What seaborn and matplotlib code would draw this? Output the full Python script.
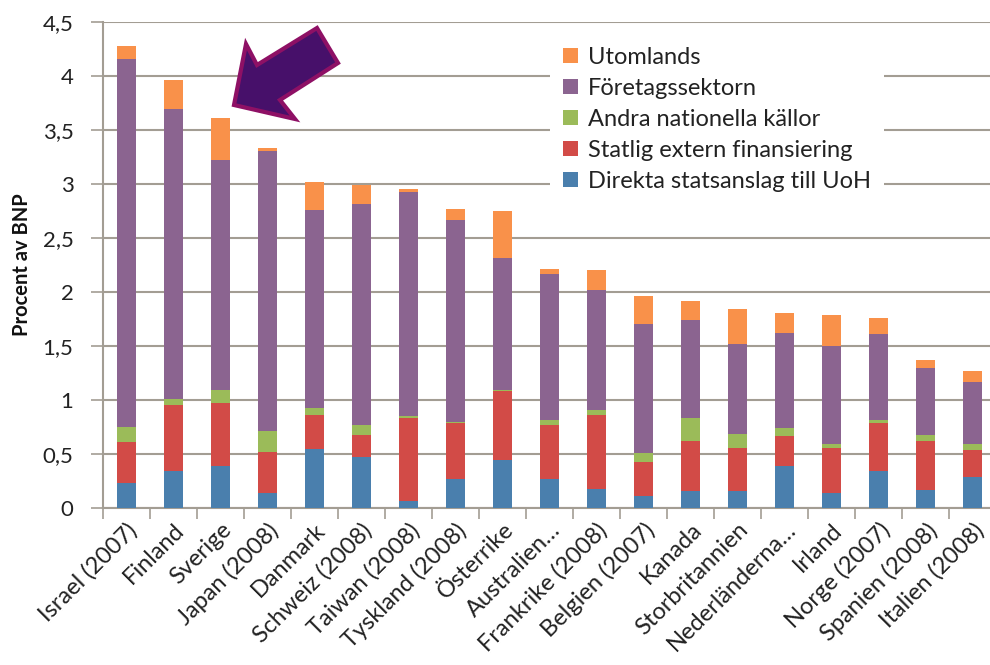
import matplotlib
matplotlib.use("Agg")
import matplotlib.pyplot as plt
from matplotlib.patches import Polygon, Patch
import seaborn as sns
import numpy as np
import pandas as pd

categories = ["Israel (2007)", "Finland", "Sverige", "Japan (2008)", "Danmark",
              "Schweiz (2008)", "Taiwan (2008)", "Tyskland (2008)", "Österrike",
              "Australien…", "Frankrike (2008)", "Belgien (2007)", "Kanada",
              "Storbritannien", "Nederländerna…", "Irland", "Norge (2007)",
              "Spanien (2008)", "Italien (2008)"]

direkta = [0.23, 0.34, 0.39, 0.135, 0.55, 0.475, 0.065, 0.27, 0.447, 0.27,
           0.18, 0.11, 0.155, 0.155, 0.39, 0.135, 0.34, 0.167, 0.284]
statlig = [0.38, 0.61, 0.585, 0.385, 0.31, 0.205, 0.765, 0.515, 0.633, 0.50,
           0.68, 0.32, 0.47, 0.405, 0.277, 0.425, 0.445, 0.458, 0.25]
andra = [0.14, 0.06, 0.115, 0.19, 0.07, 0.09, 0.025, 0.015, 0.01, 0.045,
         0.045, 0.075, 0.205, 0.125, 0.073, 0.03, 0.03, 0.055, 0.056]
foretag = [3.41, 2.68, 2.135, 2.60, 1.83, 2.045, 2.075, 1.867, 1.225, 1.355,
           1.115, 1.195, 0.91, 0.835, 0.88, 0.91, 0.795, 0.62, 0.577]
utomlands = [0.12, 0.27, 0.385, 0.02, 0.26, 0.18, 0.02, 0.103, 0.435, 0.04,
             0.18, 0.26, 0.175, 0.32, 0.19, 0.285, 0.145, 0.075, 0.103]

series_names = ["Direkta statsanslag till UoH", "Statlig extern finansiering",
                "Andra nationella källor", "Företagssektorn", "Utomlands"]
series_values = [direkta, statlig, andra, foretag, utomlands]
colors = ["#4A7FAD", "#D24B47", "#9BBB59", "#8B6490", "#F9914A"]

sns.set_theme(style="white")
plt.rcParams["font.family"] = ["Lato", "DejaVu Sans"]

fig = plt.figure(figsize=(9.9, 6.65), dpi=100)
ax = fig.add_axes([102.7 / 990, 157 / 665, 893.7 / 990, 486 / 665])

cum = np.zeros(len(categories))
cums = []
for vals in series_values:
    cum = cum + np.array(vals)
    cums.append(cum.copy())

# draw from top layer down so lower layers overlay the cumulative heights
for name, c, col in reversed(list(zip(series_names, cums, colors))):
    d = pd.DataFrame({"cat": categories, "val": c})
    sns.barplot(data=d, x="cat", y="val", color=col, width=0.4, ax=ax,
                saturation=1, edgecolor="none", linewidth=0, zorder=3)

ax.set_xlim(-0.5, len(categories) - 0.5)
ax.set_ylim(0, 4.5)
ax.set_yticks(np.arange(0, 4.51, 0.5))
ax.set_yticklabels(["0", "0,5", "1", "1,5", "2", "2,5", "3", "3,5", "4", "4,5"],
                   fontsize=16, color="#222222")
ax.yaxis.grid(True, color="#A39D93", linewidth=1.5, zorder=0)
ax.set_axisbelow(True)

ax.set_xticks(range(len(categories)))
ax.set_xticklabels(categories, rotation=45, ha="right", rotation_mode="anchor",
                   fontsize=17, color="#222222")
ax.set_xticks(np.arange(-0.5, len(categories), 1), minor=True)
ax.tick_params(axis="x", which="major", length=0, pad=8)
ax.tick_params(axis="x", which="minor", length=8, width=1.2, color="#A39D93",
               direction="out", bottom=True)
ax.tick_params(axis="y", length=9, width=1.2, color="#A39D93", direction="out",
               left=True, pad=12)

for s in ["top", "right"]:
    ax.spines[s].set_visible(False)
for s in ["left", "bottom"]:
    ax.spines[s].set_color("#A39D93")
    ax.spines[s].set_linewidth(1.5)

ax.set_xlabel("")
ax.set_ylabel("Procent av BNP", fontsize=14.5, fontweight="bold", color="#111111")
ax.yaxis.set_label_coords(-0.079, 0.5)

handles = [Patch(facecolor=col, edgecolor="none", label=name)
           for name, col in zip(series_names, colors)][::-1]
leg = ax.legend(handles=handles, loc="upper left",
                bbox_to_anchor=(550 / 990, 1 - 34 / 665),
                bbox_transform=fig.transFigure, frameon=True, fontsize=17,
                handlelength=0.62, handleheight=0.62, handletextpad=0.45,
                labelspacing=0.42, borderpad=0.55, borderaxespad=0)
leg.get_frame().set_facecolor("white")
leg.get_frame().set_edgecolor("none")
leg.get_frame().set_alpha(1)
leg.set_zorder(5)
for t in leg.get_texts():
    t.set_color("#222222")

# decorative arrow pointing to Sverige
pts = [(234, 105), (246, 44), (257, 65), (317, 28), (338, 63), (280, 100), (295, 119)]
pts = [(x / 990, 1 - y / 665) for x, y in pts]
fig.patches.append(Polygon(pts, closed=True, facecolor="#47106A",
                           edgecolor="#8E1065", linewidth=3,
                           transform=fig.transFigure, zorder=10))

fig.savefig("out.png", dpi=100)
